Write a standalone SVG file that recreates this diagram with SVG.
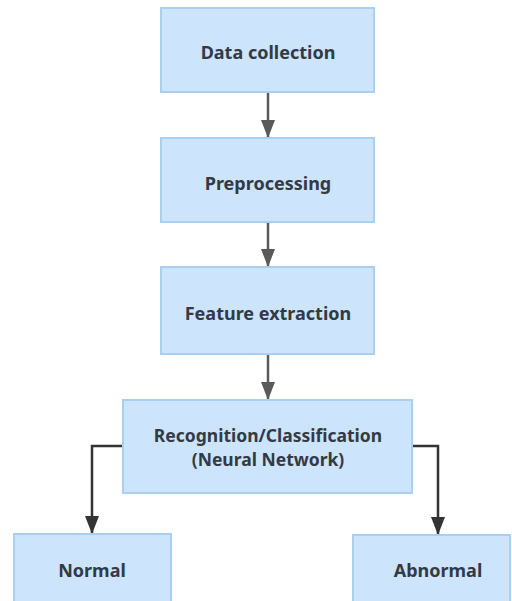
<svg xmlns="http://www.w3.org/2000/svg" width="512" height="601" viewBox="0 0 512 601">
  <style>
    .box { fill: #cce4fc; stroke: #a9cff3; stroke-width: 2; }
    .label { font-family: "Noto Sans", "Open Sans", sans-serif; font-weight: bold; font-size: 18px; fill: #333a44; text-anchor: middle; }
    .small { font-size: 17.5px; }
    .link { fill: none; stroke-width: 2.5; }
    .gray { stroke: #5a5a5a; }
    .dark { stroke: #333333; }
  </style>
  <defs>
    <marker id="headGray" viewBox="0 0 18 14" refX="18" refY="7" markerWidth="18" markerHeight="14" markerUnits="userSpaceOnUse" orient="auto">
      <path d="M0,0 L18,7 L0,14 Z" fill="#5a5a5a"/>
    </marker>
    <marker id="headDark" viewBox="0 0 18 14" refX="18" refY="7" markerWidth="18" markerHeight="14" markerUnits="userSpaceOnUse" orient="auto">
      <path d="M0,0 L18,7 L0,14 Z" fill="#333333"/>
    </marker>
  </defs>

  <g id="connectors">
    <path class="link gray" d="M268,93 L268,138" marker-end="url(#headGray)"/>
    <path class="link gray" d="M268,223 L268,267" marker-end="url(#headGray)"/>
    <path class="link gray" d="M268,355 L268,400" marker-end="url(#headGray)"/>
    <path class="link dark" d="M123,446 L92,446 L92,534" marker-end="url(#headDark)"/>
    <path class="link dark" d="M412,446 L438,446 L438,535" marker-end="url(#headDark)"/>
  </g>

  <g id="data-collection">
    <rect class="box" x="161" y="8" width="213" height="84"/>
    <text class="label" x="268" y="58.5">Data collection</text>
  </g>
  <g id="preprocessing">
    <rect class="box" x="161" y="138" width="213" height="84"/>
    <text class="label" x="268" y="189.5">Preprocessing</text>
  </g>
  <g id="feature-extraction">
    <rect class="box" x="161" y="267" width="213" height="87"/>
    <text class="label" x="268" y="319.5">Feature extraction</text>
  </g>
  <g id="recognition">
    <rect class="box" x="123" y="400" width="289" height="93"/>
    <text class="label small" x="268" y="442">Recognition/Classification</text>
    <text class="label small" x="268" y="466">(Neural Network)</text>
  </g>
  <g id="normal">
    <rect class="box" x="14" y="534" width="157" height="80"/>
    <text class="label" x="92" y="576.5">Normal</text>
  </g>
  <g id="abnormal">
    <rect class="box" x="353" y="535" width="157" height="80"/>
    <text class="label" x="438" y="576.5">Abnormal</text>
  </g>
</svg>
